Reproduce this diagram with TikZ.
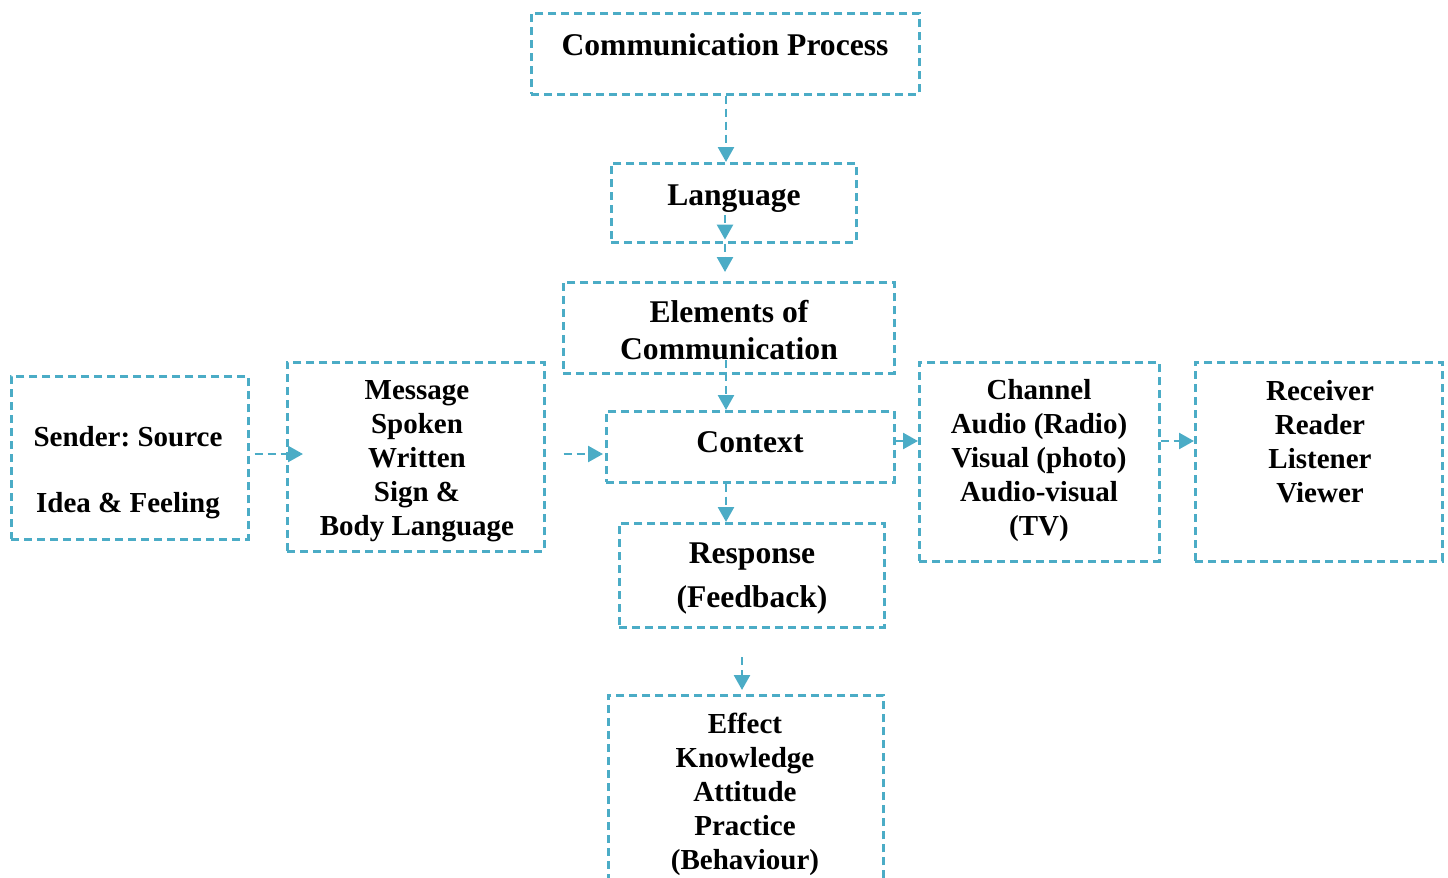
\documentclass[tikz,border=0pt]{standalone}
\usepackage{fontspec}
\setmainfont{Liberation Serif}
\usetikzlibrary{arrows.meta}
\definecolor{accent}{HTML}{4BACC6}
\frenchspacing
\newcommand{\bigtxt}{\fontsize{15.8pt}{18.5pt}\selectfont\bfseries}
\newcommand{\smalltxt}{\fontsize{14.5pt}{17pt}\selectfont\bfseries}
\tikzset{
  box/.style={draw=accent, line width=1.3pt, dash pattern=on 4pt off 2.5pt,
    rectangle, inner sep=0pt, anchor=north west},
  lbl/.style={align=center, inner sep=0pt, text=black},
  conn/.style={draw=accent, line width=1.3pt, dash pattern=on 4pt off 2.5pt,
    -{Triangle[length=7.5pt,width=8pt]}}
}
\begin{document}
\begin{tikzpicture}[x=0.5pt,y=-0.5pt]
\useasboundingbox (0,0) rectangle (1448,878);
\clip (0,0) rectangle (1448,878);
% boxes: position = top-left corner, sizes in pixels (0.5pt each)
\node[box, minimum width=194pt, minimum height=40.5pt] (proc) at (530,12) {};
\node[box, minimum width=122.5pt, minimum height=39.5pt] (lang) at (610,162) {};
\node[box, minimum width=165.5pt, minimum height=45.5pt] (elem) at (562,281) {};
\node[box, minimum width=144pt, minimum height=35.5pt] (ctx) at (605,410) {};
\node[box, minimum width=132.5pt, minimum height=52pt] (resp) at (618,522) {};
\node[box, minimum width=137.5pt, minimum height=110pt] (eff) at (607,694) {};
\node[box, minimum width=118.5pt, minimum height=81.5pt] (snd) at (10,375) {};
\node[box, minimum width=128.5pt, minimum height=94.5pt] (msg) at (286,361) {};
\node[box, minimum width=120pt, minimum height=99.5pt] (chn) at (918,361) {};
\node[box, minimum width=123.5pt, minimum height=99.5pt] (rcv) at (1194,361) {};

% texts
\node[lbl, font=\bigtxt] (t-proc) at (725,45) {Communication Process};
\node[lbl, font=\bigtxt] (t-lang) at (734,199) {Language};
\node[lbl, font=\bigtxt] (t-elem) at (729,330) {Elements of\\Communication};
\node[lbl, font=\bigtxt] (t-ctx) at (750,442) {Context};
\node[lbl, font=\fontsize{15.8pt}{22pt}\selectfont\bfseries] (t-resp) at (752,579) {Response\\(Feedback)};
\node[lbl, font=\smalltxt] (t-eff) at (745,794) {Effect\\Knowledge\\Attitude\\Practice\\(Behaviour)};
\node[lbl, font=\smalltxt] (t-snd) at (128,473) {Sender: Source\\[16pt] Idea \& Feeling};
\node[lbl, font=\smalltxt] (t-msg) at (417,461) {Message\\Spoken\\Written\\Sign \&\\Body Language};
\node[lbl, font=\smalltxt] (t-chn) at (1039,461) {Channel\\Audio (Radio)\\Visual (photo)\\Audio-visual\\(TV)};
\node[lbl, font=\smalltxt] (t-rcv) at (1320,442) {Receiver\\Reader\\Listener\\Viewer};

% connectors
\coordinate (lang-in) at (725,215);
\coordinate (elem-out) at (726,360);
\coordinate (resp-out) at (742,657);
\coordinate (row1) at (303,454);
\coordinate (row2) at (0,454);
\coordinate (row3) at (0,441);

\draw[conn] (proc.south -| elem-out) -- (lang.north -| elem-out);
\draw[conn, shorten >=2pt] (lang-in) -- (lang.south -| lang-in);
\draw[conn, shorten >=4.5pt] (lang.south -| lang-in) -- (elem.north -| lang-in);
\draw[conn] (elem-out) -- (ctx.north -| elem-out);
\draw[conn] (ctx.south -| elem-out) -- (resp.north -| elem-out);
\draw[conn, shorten >=2pt] (resp-out) -- (eff.north -| resp-out);
\draw[conn, shorten <=2.5pt] (snd.east |- row1) -- (row1);
\draw[conn, shorten <=9pt, shorten >=1pt] (msg.east |- row2) -- (ctx.west |- row2);
\draw[conn] (ctx.east |- row3) -- (chn.west |- row3);
\draw[conn] (chn.east |- row3) -- (rcv.west |- row3);
\end{tikzpicture}
\end{document}
